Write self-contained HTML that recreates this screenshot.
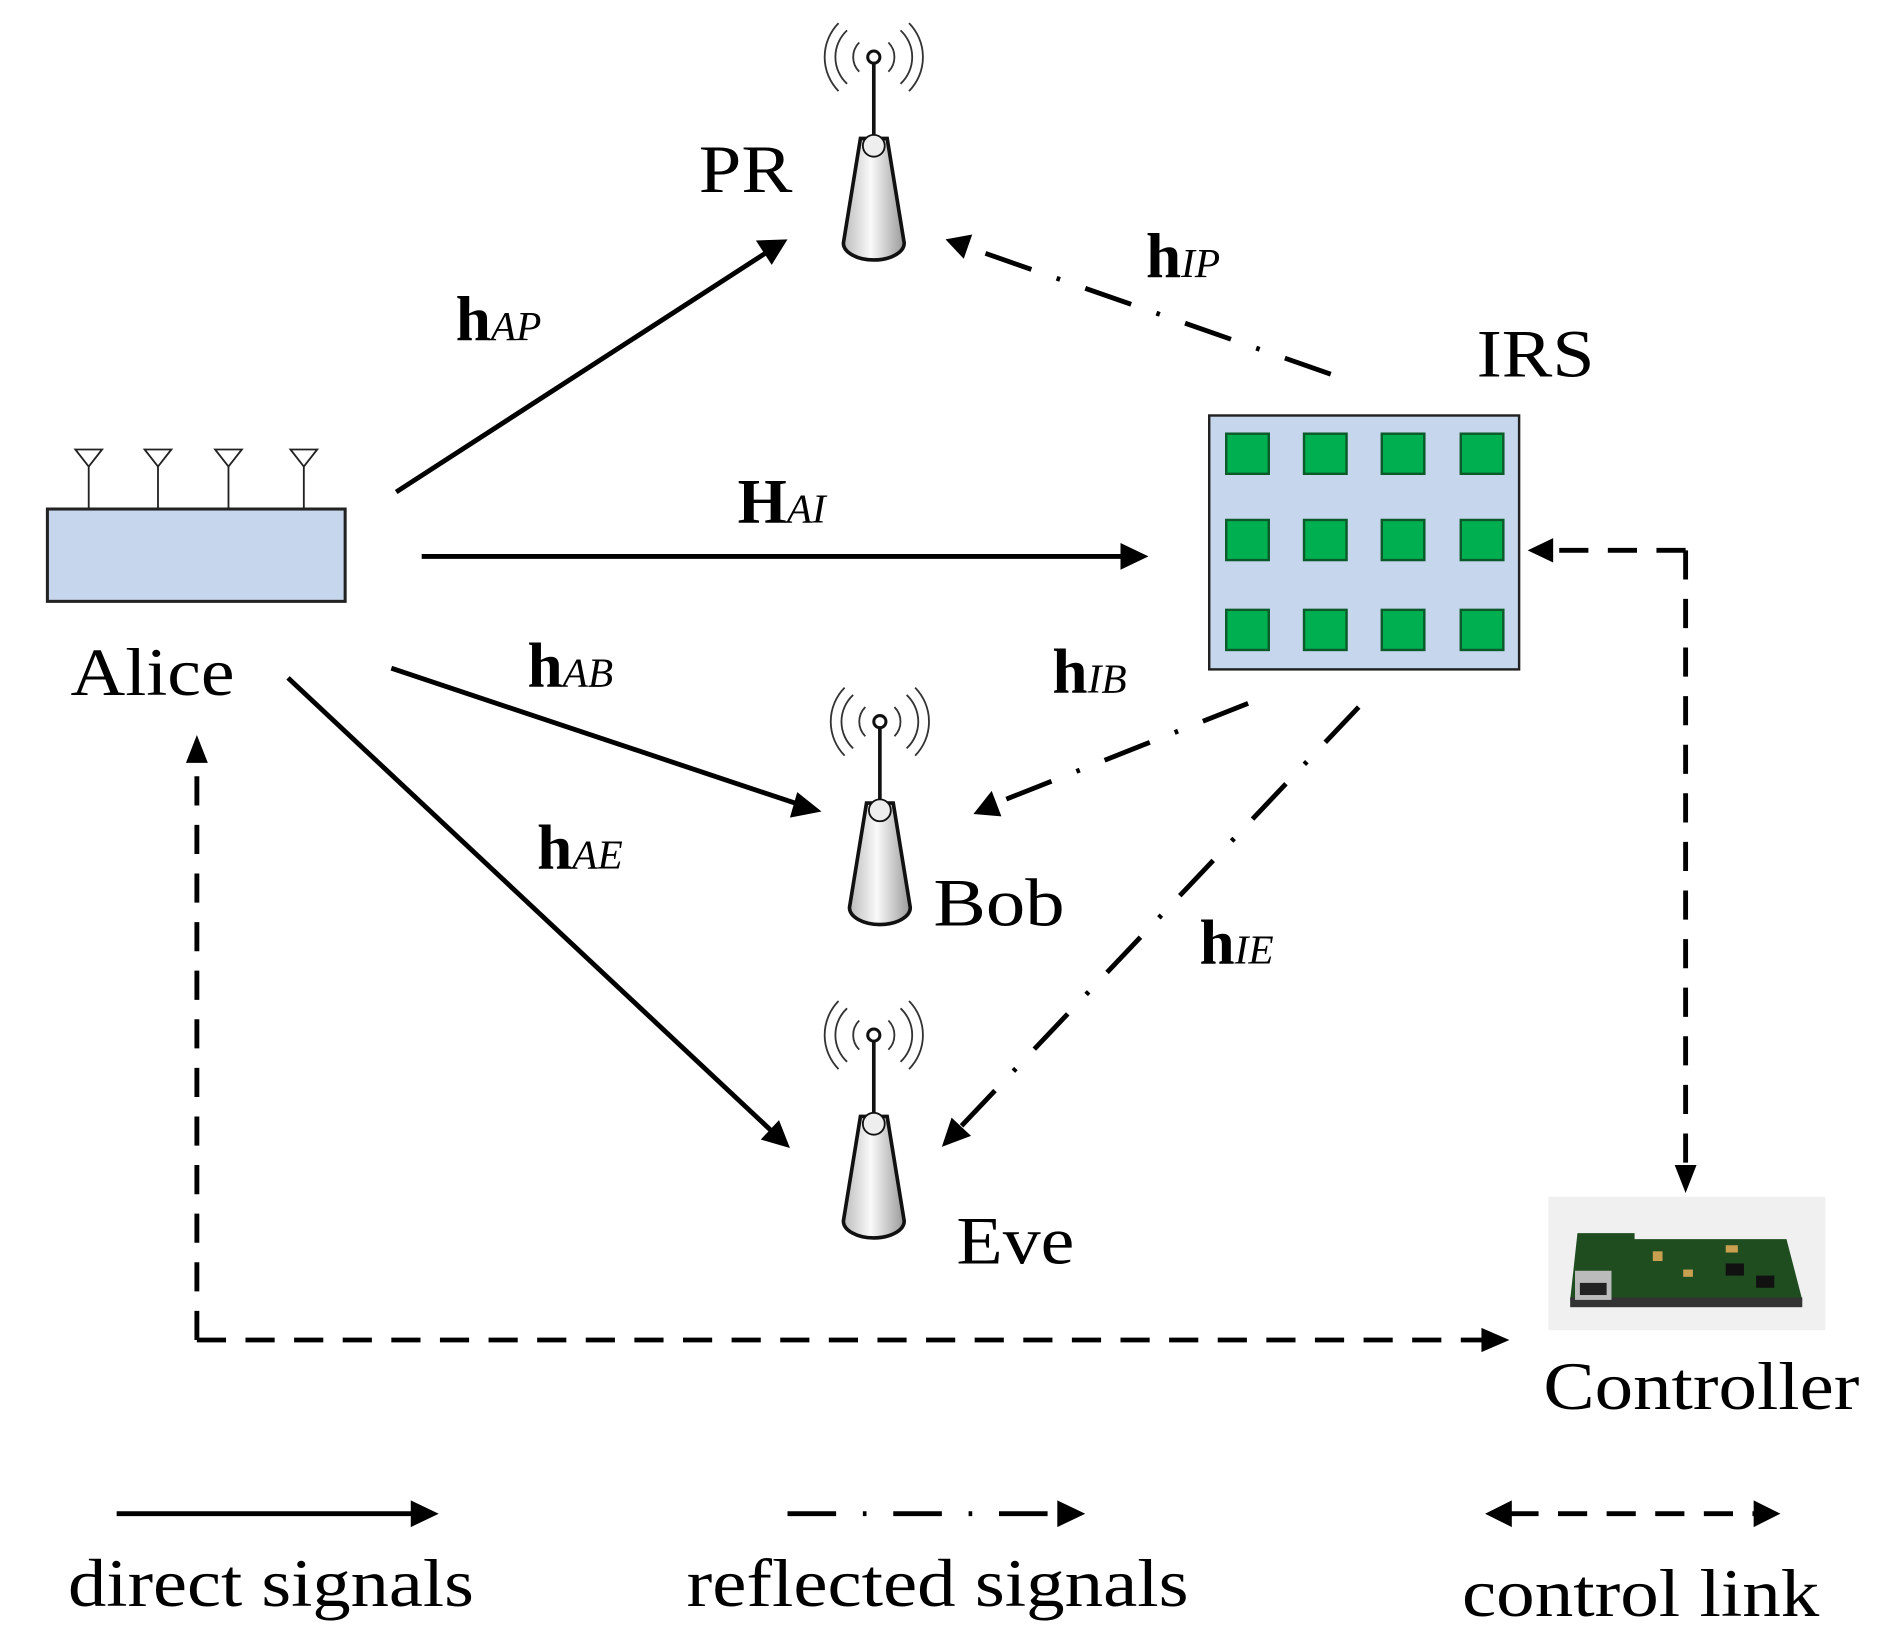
<!DOCTYPE html>
<html><head><meta charset="utf-8"><style>html,body{margin:0;padding:0;background:#fff}svg{display:block}</style></head>
<body>
<svg width="1891" height="1651" viewBox="0 0 1556 1359" preserveAspectRatio="none" xmlns="http://www.w3.org/2000/svg" font-family="'Liberation Serif', serif">
<defs>
<linearGradient id="ant" x1="0" x2="1">
<stop offset="0" stop-color="#bbb"/><stop offset="0.45" stop-color="#fafafa"/><stop offset="1" stop-color="#999"/></linearGradient>
<g id="antenna">
<path d="M-11,-100 L11,-100 L25,-14 A25,14 0 0 1 -25,-14 Z" fill="url(#ant)" stroke="#111" stroke-width="3"/>
<ellipse cx="0" cy="-94" rx="9" ry="9" fill="#eee" stroke="#111" stroke-width="1.5"/>
<line x1="0" y1="-103" x2="0" y2="-162" stroke="#111" stroke-width="3"/>
<circle cx="0" cy="-167" r="5" fill="#fff" stroke="#111" stroke-width="2.5"/>
<path d="M-12,-179 A17,17 0 0 0 -12,-155 M12,-179 A17,17 0 0 1 12,-155 M-22,-189 A30,30 0 0 0 -22,-145 M22,-189 A30,30 0 0 1 22,-145 M-29,-195 A40,40 0 0 0 -29,-139 M29,-195 A40,40 0 0 1 29,-139" fill="none" stroke="#333" stroke-width="1.5"/>
</g>
</defs>

<!-- antennas -->
<use href="#antenna" x="719" y="214"/>
<use href="#antenna" x="724" y="761"/>
<use href="#antenna" x="719" y="1019"/>

<!-- Alice -->
<rect x="39" y="419" width="245" height="76" fill="#c6d6ec" stroke="#222" stroke-width="2.5"/>
<g stroke="#222" stroke-width="1.5" fill="#fff">
<line x1="73" y1="382" x2="73" y2="419"/><line x1="130" y1="382" x2="130" y2="419"/><line x1="188" y1="382" x2="188" y2="419"/><line x1="250" y1="382" x2="250" y2="419"/>
<path d="M62,370 L84,370 L73,384 Z"/><path d="M119,370 L141,370 L130,384 Z"/><path d="M177,370 L199,370 L188,384 Z"/><path d="M239,370 L261,370 L250,384 Z"/>
</g>

<!-- IRS -->
<rect x="995" y="342" width="255" height="209" fill="#c6d6ec" stroke="#222" stroke-width="2"/>
<g fill="#00b050" stroke="#0a5a2a" stroke-width="2">
<rect x="1009" y="357" width="35" height="33"/><rect x="1073" y="357" width="35" height="33"/><rect x="1137" y="357" width="35" height="33"/><rect x="1202" y="357" width="35" height="33"/>
<rect x="1009" y="428" width="35" height="33"/><rect x="1073" y="428" width="35" height="33"/><rect x="1137" y="428" width="35" height="33"/><rect x="1202" y="428" width="35" height="33"/>
<rect x="1009" y="502" width="35" height="33"/><rect x="1073" y="502" width="35" height="33"/><rect x="1137" y="502" width="35" height="33"/><rect x="1202" y="502" width="35" height="33"/>
</g>

<!-- Controller board -->
<rect x="1274" y="985" width="228" height="110" fill="#f0f0f0"/>
<path d="M1292,1070 L1298,1015 L1345,1015 L1345,1020 L1470,1020 L1483,1070 Z" fill="#1f4d1f"/>
<rect x="1292" y="1068" width="191" height="8" fill="#333"/>
<rect x="1296" y="1046" width="30" height="24" fill="#bbb"/>
<rect x="1300" y="1056" width="22" height="10" fill="#222"/>
<g fill="#c9a050"><rect x="1360" y="1030" width="8" height="8"/><rect x="1385" y="1045" width="8" height="6"/><rect x="1420" y="1025" width="10" height="6"/></g>
<g fill="#111"><rect x="1420" y="1040" width="15" height="10"/><rect x="1445" y="1050" width="15" height="10"/></g>

<!-- solid arrows -->
<g stroke="#000" stroke-width="4" fill="none">
<line x1="326" y1="405" x2="632" y2="207"/>
<line x1="347" y1="458" x2="925" y2="458"/>
<line x1="322" y1="550" x2="657" y2="662"/>
<line x1="237" y1="558" x2="636" y2="932"/>
</g>
<g fill="#000">
<path d="M648,197 L622,198 L635,218 Z"/>
<path d="M945,458 L922,447 L922,469 Z"/>
<path d="M676,668 L656,652 L650,673 Z"/>
<path d="M650,945 L641,922 L626,938 Z"/>
</g>

<!-- dash-dot reflected -->
<g stroke="#000" stroke-width="4" fill="none" stroke-dasharray="40,22,3,22">
<line x1="1095" y1="308" x2="795" y2="203"/>
<line x1="1027" y1="579" x2="820" y2="661"/>
<line x1="1118" y1="582" x2="790" y2="928"/>
</g>
<g fill="#000">
<path d="M778,197 L800,193 L793,213 Z"/>
<path d="M801,670 L816,651 L824,672 Z"/>
<path d="M775,944 L783,920 L799,935 Z"/>
</g>

<!-- control dashed -->
<g stroke="#000" stroke-width="4" fill="none" stroke-dasharray="24,16">
<line x1="162" y1="1103" x2="162" y2="625"/>
<line x1="162" y1="1103" x2="1222" y2="1103"/>
<line x1="1387" y1="453" x2="1387" y2="962"/>
<line x1="1387" y1="453" x2="1275" y2="453"/>
</g>
<g fill="#000">
<path d="M162,605 L153,628 L171,628 Z"/>
<path d="M1242,1103 L1219,1093 L1219,1113 Z"/>
<path d="M1387,982 L1378,959 L1396,959 Z"/>
<path d="M1257,453 L1278,443 L1278,463 Z"/>
</g>

<!-- legend -->
<line x1="96" y1="1246" x2="340" y2="1246" stroke="#000" stroke-width="4"/>
<path d="M361,1246 L338,1235 L338,1257 Z"/>
<line x1="648" y1="1246" x2="872" y2="1246" stroke="#000" stroke-width="4" stroke-dasharray="40,22,3,22"/>
<path d="M893,1246 L870,1235 L870,1257 Z"/>
<line x1="1242" y1="1246" x2="1445" y2="1246" stroke="#000" stroke-width="4" stroke-dasharray="24,16"/>
<path d="M1222,1246 L1244,1235 L1244,1257 Z"/>
<path d="M1465,1246 L1443,1235 L1443,1257 Z"/>

<!-- text -->
<g font-size="56" fill="#000">
<text x="575" y="158" textLength="77" lengthAdjust="spacingAndGlyphs">PR</text>
<text x="1215" y="310" textLength="97" lengthAdjust="spacingAndGlyphs">IRS</text>
<text x="58" y="572" textLength="135" lengthAdjust="spacingAndGlyphs">Alice</text>
<text x="768" y="762" textLength="108" lengthAdjust="spacingAndGlyphs">Bob</text>
<text x="787" y="1040" textLength="97" lengthAdjust="spacingAndGlyphs">Eve</text>
<text x="1270" y="1160" textLength="260" lengthAdjust="spacingAndGlyphs">Controller</text>
<text x="56" y="1322" textLength="334" lengthAdjust="spacingAndGlyphs">direct signals</text>
<text x="565" y="1322" textLength="413" lengthAdjust="spacingAndGlyphs">reflected signals</text>
<text x="1203" y="1330" textLength="294" lengthAdjust="spacingAndGlyphs">control link</text>
</g>
<g fill="#000">
<text x="375" y="280" font-size="52" font-weight="bold">h<tspan font-size="34" font-weight="normal" font-style="italic">AP</tspan></text>
<text x="607" y="430" font-size="52" font-weight="bold">H<tspan font-size="34" font-weight="normal" font-style="italic">AI</tspan></text>
<text x="434" y="565" font-size="52" font-weight="bold">h<tspan font-size="34" font-weight="normal" font-style="italic">AB</tspan></text>
<text x="442" y="715" font-size="52" font-weight="bold">h<tspan font-size="34" font-weight="normal" font-style="italic">AE</tspan></text>
<text x="943" y="228" font-size="52" font-weight="bold">h<tspan font-size="34" font-weight="normal" font-style="italic">IP</tspan></text>
<text x="866" y="570" font-size="52" font-weight="bold">h<tspan font-size="34" font-weight="normal" font-style="italic">IB</tspan></text>
<text x="987" y="793" font-size="52" font-weight="bold">h<tspan font-size="34" font-weight="normal" font-style="italic">IE</tspan></text>
</g>
</svg>
</body></html>
